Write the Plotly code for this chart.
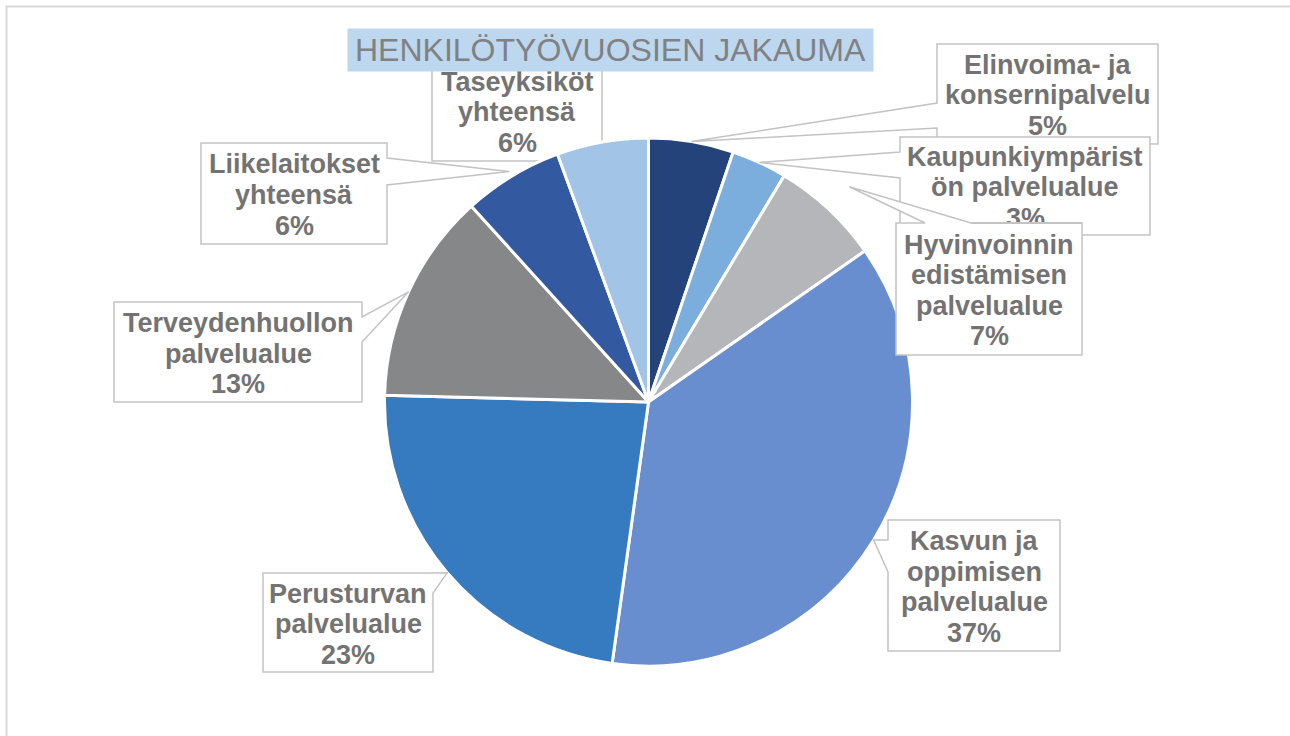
import math
import plotly.graph_objects as go

# ---------------- data ----------------
categories = [
    "Elinvoima- ja konsernipalvelu",
    "Kaupunkiympäristön palvelualue",
    "Hyvinvoinnin edistämisen palvelualue",
    "Kasvun ja oppimisen palvelualue",
    "Perusturvan palvelualue",
    "Terveydenhuollon palvelualue",
    "Liikelaitokset yhteensä",
    "Taseyksiköt yhteensä",
]
values = [5.2, 3.4, 6.7, 36.9, 23.2, 12.9, 6.1, 5.6]
label_lines = [
    ["Elinvoima- ja", "konsernipalvelu"],
    ["Kaupunkiympärist", "ön palvelualue"],
    ["Hyvinvoinnin", "edistämisen", "palvelualue"],
    ["Kasvun ja", "oppimisen", "palvelualue"],
    ["Perusturvan", "palvelualue"],
    ["Terveydenhuollon", "palvelualue"],
    ["Liikelaitokset", "yhteensä"],
    ["Taseyksiköt", "yhteensä"],
]
title_text = "HENKILÖTYÖVUOSIEN JAKAUMA"

# ---------------- style / layout ----------------
W, H = 1290, 736
colors = ["#23437A", "#7BAEDD", "#B5B6B9", "#698ED0", "#367BC0", "#868789", "#335AA1", "#A2C4E6"]
FONT = "Liberation Sans, Arial, sans-serif"
TXT = "#747373"
EDGE = "#C3C3C3"

dom_x = [384.5 / W, 912.5 / W]
dom_y = [1 - 666 / H, 1 - 138 / H]
cx = (dom_x[0] + dom_x[1]) / 2 * W
cy = (1 - (dom_y[0] + dom_y[1]) / 2) * H
R = (dom_x[1] - dom_x[0]) * W / 2

# callout boxes in pixels: (x0, y0, x1, y1), pointer (side, a, b), tip radius factor, layer
callouts = [
    ((937, 44, 1158, 144), ("left", 103, 128), 1.0, "above"),
    ((900, 137, 1150, 235), ("left", 152, 178), 1.0, "above"),
    ((896, 223, 1082, 355), ("top", 925, 971), 1.115, "above"),
    ((888, 520, 1060, 651), ("left", 540, 572), 1.0, "above"),
    ((263, 573, 433, 672), ("right", 573, 593), 1.0, "above"),
    ((114, 302, 362, 402), ("right", 317, 342), 1.0, "above"),
    ((201, 143, 387, 244), ("right", 158, 185), 1.02, "above"),
    ((432, 61, 602, 161), None, 1.0, "below"),
]
LINE_H = 30.5
FS = 27


def P(x, y):
    return x / W, 1 - y / H


def path_from(pts):
    s = ""
    for i, (x, y) in enumerate(pts):
        px, py = P(x, y)
        s += ("M" if i == 0 else " L") + f" {px:.5f},{py:.5f}"
    return s + " Z"


total = sum(values)
cum = 0.0
tips = []
for v, (_, _, f, _) in zip(values, callouts):
    ang = 2 * math.pi * (cum + v / 2) / total
    tips.append((cx + R * f * math.sin(ang), cy - R * f * math.cos(ang)))
    cum += v

fig = go.Figure(
    go.Pie(
        labels=categories,
        values=values,
        sort=False,
        direction="clockwise",
        rotation=0,
        marker=dict(colors=colors, line=dict(color="white", width=3)),
        textinfo="none",
        hoverinfo="skip",
        showlegend=False,
        domain=dict(x=dom_x, y=dom_y),
    )
)

shapes = []
# outer chart border
shapes.append(dict(type="rect", xref="paper", yref="paper",
                   x0=6.5 / W, y0=-0.05, x1=1.05, y1=1 - 6.5 / H,
                   line=dict(color="#D9D9D9", width=2), fillcolor="rgba(0,0,0,0)", layer="below"))

for (box, ptr, f, layer), tip in zip(callouts, tips):
    x0, y0, x1, y1 = box
    pts = [(x0, y0)]
    if ptr and ptr[0] == "top":
        pts += [(ptr[1], y0), tip, (ptr[2], y0)]
    pts.append((x1, y0))
    if ptr and ptr[0] == "right":
        pts += [(x1, ptr[1]), tip, (x1, ptr[2])]
    pts.append((x1, y1))
    pts.append((x0, y1))
    if ptr and ptr[0] == "left":
        pts += [(x0, ptr[2]), tip, (x0, ptr[1])]
    shapes.append(dict(type="path", xref="paper", yref="paper", path=path_from(pts),
                       fillcolor="white", line=dict(color=EDGE, width=1.5), layer=layer))

annotations = []
for i, (lines, v, (box, ptr, f, layer)) in enumerate(zip(label_lines, values, callouts)):
    x0, y0, x1, y1 = box
    all_lines = lines + [f"{round(v / total * 100)}%"]
    n = len(all_lines)
    xc = (x0 + x1) / 2
    yc = (y0 + y1) / 2 + 1.5
    if i == 2:
        # Hyvinvoinnin box covers the lower part of the previous label (as in Excel)
        annotations.append(dict(xref="paper", yref="paper", x=P(989, 0)[0], y=P(0, 224.2)[1],
                                xanchor="center", yanchor="top", text=" ", showarrow=False,
                                width=184, height=16, bgcolor="white", borderwidth=0, borderpad=0,
                                font=dict(size=1)))
        annotations.append(dict(xref="paper", yref="paper", x=P(1026.5, 0)[0], y=P(0, 222.3)[1],
                                xanchor="center", yanchor="top", text=" ", showarrow=False,
                                width=111, height=1.5, bgcolor=EDGE, borderwidth=0, borderpad=0,
                                font=dict(size=1)))
    for k, t in enumerate(all_lines):
        yl = yc + (k - (n - 1) / 2) * LINE_H
        px, py = P(xc, yl)
        annotations.append(dict(xref="paper", yref="paper", x=px, y=py,
                                xanchor="center", yanchor="middle", showarrow=False,
                                text=f"<b>{t}</b>",
                                font=dict(family=FONT, size=FS, color=TXT)))

# title
tx, ty = P(610.5, 50)
annotations.append(dict(xref="paper", yref="paper", x=tx, y=ty, xanchor="center", yanchor="middle",
                        showarrow=False, text=title_text, width=525, height=42,
                        bgcolor="#BDD7EE", borderpad=0,
                        font=dict(family=FONT, size=32, color="#7F8184")))

fig.update_layout(
    width=W, height=H,
    margin=dict(l=0, r=0, t=0, b=0),
    paper_bgcolor="white", plot_bgcolor="white",
    shapes=shapes, annotations=annotations,
    showlegend=False,
)

fig.write_html(
    "out.html",
    config={"displayModeBar": False, "staticPlot": True},
    post_script="document.body.style.margin='0';document.body.style.overflow='hidden';",
)
